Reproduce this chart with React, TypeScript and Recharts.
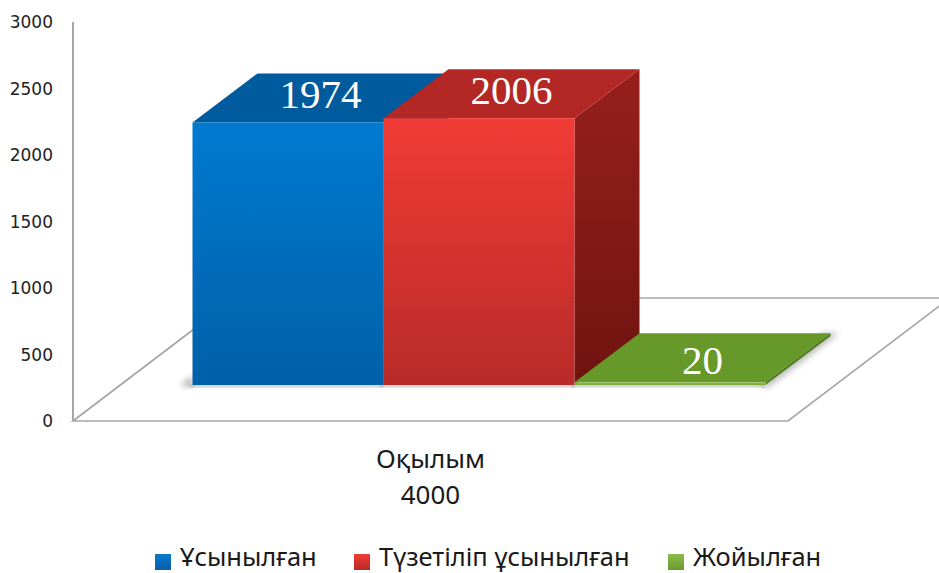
import { BarChart, Bar, XAxis, YAxis, Legend, LabelList, ReferenceArea } from "recharts"

const categories = ["Оқылым 4000"]
const seriesNames = ["Ұсынылған", "Түзетіліп ұсынылған", "Жойылған"]
const proposed = [1974]
const corrected = [2006]
const removed = [20]
const yTicks = [0, 500, 1000, 1500, 2000, 2500, 3000]

const data = categories.map((name, i) => ({
  name,
  proposed: proposed[i],
  corrected: corrected[i],
  removed: removed[i],
}))

// the front plane of the bars sits deeper than the axis floor edge
const shiftX = 48.5
const shiftY = -36
const depthX = 65
const depthY = -49

const grey = "#a6a6a6"

function Box({ x, y, width, height, id, top, side, leftShadow, backShadow }: any) {
  const l = x + shiftX
  const r = l + width
  const t = y + shiftY
  const b = t + height
  return (
    <g>
      {leftShadow && <polygon points={`${l - 12},${b + 1} ${l},${b - 9} ${l},${b + 1}`} fill="#777" opacity={0.7} filter="url(#soft)" />}
      {backShadow && (
        <polygon
          points={`${r + depthX + 8},${t + depthY} ${r + 3},${b + 2} ${r - 6},${b + 2} ${r + depthX - 8},${t + depthY}`}
          fill="#777"
          opacity={0.55}
          filter="url(#soft)"
        />
      )}
      <rect x={l - 3} y={b} width={width + 3} height={2} fill="#777" opacity={0.5} filter="url(#thin)" />
      <polygon points={`${r},${t} ${r + depthX},${t + depthY} ${r + depthX},${b + depthY} ${r},${b}`} fill={side} />
      <polygon points={`${l},${t} ${l + depthX},${t + depthY} ${r + depthX},${t + depthY} ${r},${t}`} fill={top} />
      <rect x={l} y={t} width={width} height={height} fill={`url(#${id})`} />
    </g>
  )
}

function ValueLabel({ x, y, width, value, lift = 0 }: any) {
  return (
    <text
      x={x + shiftX + width / 2 + depthX / 2}
      y={y + shiftY + depthY / 2 + 10 + lift}
      textAnchor="middle"
      fill="#ffffff"
      fontFamily="'Liberation Serif', serif"
      fontSize={41}
    >
      {value}
    </text>
  )
}

function Floor({ x, y, width, height }: any) {
  const bottom = y + height
  const backY = 298
  const run = (bottom - backY) / 0.76
  return (
    <polyline
      points={`${x + run},${backY} ${x},${bottom} ${x + width},${bottom} ${x + width + run},${backY} ${x + run},${backY}`}
      fill="#ffffff"
      stroke={grey}
      strokeWidth={1.7}
    />
  )
}

function CategoryTick({ x, y, payload }: any) {
  const [word, count] = String(payload.value).split(" ")
  return (
    <text textAnchor="middle" fill="#1a1a1a" fontFamily="'Noto Sans', sans-serif" fontSize={26}>
      <tspan x={x} y={y + 39}>{word}</tspan>
      <tspan x={x} y={y + 75}>{count}</tspan>
    </text>
  )
}

const legendColors = ["url(#legendBlue)", "url(#legendRed)", "url(#legendGreen)"]
const legendLefts = [155, 354, 668]

function ChartLegend() {
  return (
    <div style={{ position: "relative", height: 33, width: 939, fontFamily: "'Noto Sans', sans-serif", fontSize: 25.5, color: "#1a1a1a" }}>
      {seriesNames.map((name, i) => (
        <div key={name} style={{ position: "absolute", left: legendLefts[i], top: 0, display: "flex", alignItems: "center", lineHeight: "33px", whiteSpace: "nowrap" }}>
          <svg width={16} height={16} style={{ marginRight: 9, position: "relative", top: 5 }}>
            <rect width={16} height={16} fill={legendColors[i]} />
          </svg>
          {name}
        </div>
      ))}
    </div>
  )
}

export default function App() {
  return (
    <div style={{ position: "absolute", left: 0, top: 0, width: 939, height: 573, background: "#fff", overflow: "hidden" }}>
      <BarChart
        width={939}
        height={573}
        data={data}
        margin={{ top: 22, right: 151, left: 0, bottom: 79 }}
        barGap={0}
        barCategoryGap={0}
      >
        <defs>
          <linearGradient id="frontBlue" x1="0" y1="0" x2="0" y2="1">
            <stop offset="0" stopColor="#007ad0" />
            <stop offset="1" stopColor="#0060a8" />
          </linearGradient>
          <linearGradient id="frontRed" x1="0" y1="0" x2="0" y2="1">
            <stop offset="0" stopColor="#f23b36" />
            <stop offset="1" stopColor="#b82b28" />
          </linearGradient>
          <linearGradient id="frontGreen" x1="0" y1="0" x2="0" y2="1">
            <stop offset="0" stopColor="#8dbb4c" />
            <stop offset="1" stopColor="#76a838" />
          </linearGradient>
          <linearGradient id="sideRed" x1="0" y1="0" x2="0" y2="1">
            <stop offset="0" stopColor="#981f1c" />
            <stop offset="1" stopColor="#6f1410" />
          </linearGradient>
          <linearGradient id="legendBlue" x1="0" y1="0" x2="0" y2="1">
            <stop offset="0" stopColor="#0a7bd0" />
            <stop offset="1" stopColor="#0a5ea6" />
          </linearGradient>
          <linearGradient id="legendRed" x1="0" y1="0" x2="0" y2="1">
            <stop offset="0" stopColor="#f23b36" />
            <stop offset="1" stopColor="#b82b28" />
          </linearGradient>
          <linearGradient id="legendGreen" x1="0" y1="0" x2="0" y2="1">
            <stop offset="0" stopColor="#8dbb4c" />
            <stop offset="1" stopColor="#6a9a2c" />
          </linearGradient>
          <filter id="soft" x="-50%" y="-50%" width="200%" height="200%">
            <feGaussianBlur stdDeviation="3" />
          </filter>
          <filter id="thin" x="-5%" y="-300%" width="110%" height="700%">
            <feGaussianBlur stdDeviation="1" />
          </filter>
        </defs>
        <ReferenceArea x1={categories[0]} x2={categories[0]} y1={0} y2={3000} shape={<Floor />} ifOverflow="visible" />
        <XAxis
          dataKey="name"
          axisLine={false}
          tickLine={false}
          interval={0}
          height={40}
          tick={<CategoryTick />}
        />
        <YAxis
          domain={[0, 3000]}
          ticks={yTicks}
          width={73}
          axisLine={{ stroke: grey, strokeWidth: 2 }}
          tickLine={false}
          tickMargin={14}
          tick={{ fontFamily: "'DejaVu Sans', sans-serif", fontSize: 17, fill: "#222" }}
        />
        <Bar dataKey="proposed" barSize={191} isAnimationActive={false} shape={<Box id="frontBlue" top="#005a9e" side="#004a80" leftShadow />}>
          <LabelList dataKey="proposed" content={<ValueLabel />} />
        </Bar>
        <Bar dataKey="corrected" barSize={191} isAnimationActive={false} shape={<Box id="frontRed" top="#b32725" side="url(#sideRed)" />}>
          <LabelList dataKey="corrected" content={<ValueLabel />} />
        </Bar>
        <Bar dataKey="removed" barSize={191} isAnimationActive={false} shape={<Box id="frontGreen" top="#67982a" side="#4f7d1e" backShadow />}>
          <LabelList dataKey="removed" content={<ValueLabel lift={6} />} />
        </Bar>
        <Legend
          content={<ChartLegend />}
          verticalAlign="bottom"
          wrapperStyle={{ left: 0, bottom: 0, width: 939 }}
        />
      </BarChart>
    </div>
  )
}
